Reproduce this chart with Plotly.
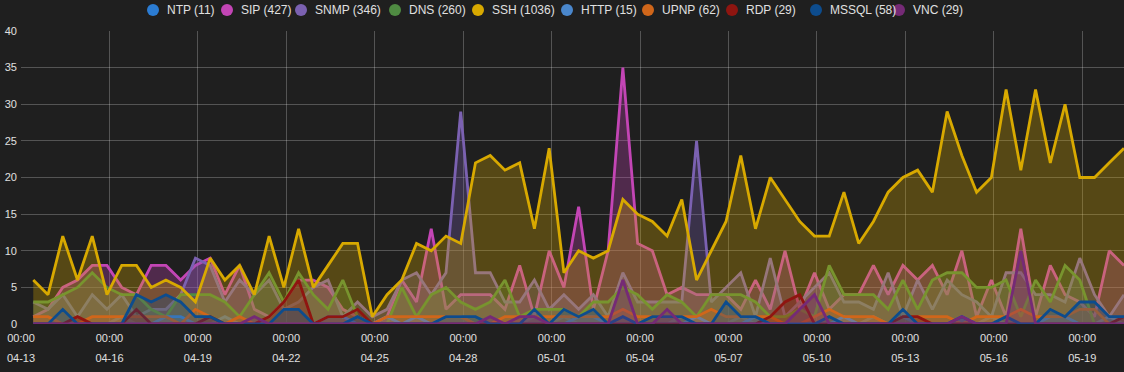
import pandas as pd
import plotly.graph_objects as go

# ---- data (12-hourly counts) ----
start = "2021-04-13 10:00"
n_points = 75
dates = pd.date_range(start, periods=n_points, freq="12h")

names = ["NTP", "SIP", "SNMP", "DNS", "SSH", "HTTP", "UPNP", "RDP", "MSSQL", "VNC"]

NTP = [0,0,0,0,0,0,1,0,0,0,0,0,0,1,0,0,0,0,0,0,0,0,0,0,0,
       0,0,0,1,1,0,0,0,0,1,0,1,0,0,0,0,0,0,0,1,0,0,0,1,0,
       0,0,0,0,0,0,0,1,0,0,0,0,0,0,0,1,0,0,0,0,0,0,0,1,0]
SIP = [1,2,5,6,8,8,5,4,8,8,6,8,9,4,8,2,1,3,6,6,5,2,1,0,1,
       6,3,13,2,4,4,4,2,8,1,10,5,16,2,10,35,11,10,4,5,4,4,4,
       2,6,2,10,2,7,2,4,4,8,4,8,6,8,4,10,1,6,1,13,1,8,4,3,1,10,8]
SNMP = [3,2,4,1,4,2,4,1,2,2,4,9,8,3,6,4,6,2,3,5,6,1,3,1,2,
        6,7,4,7,29,7,7,3,3,6,2,4,2,4,1,7,3,3,3,3,25,3,5,
        7,1,9,1,3,5,7,3,3,2,7,1,6,2,6,4,3,1,7,7,4,4,3,9,4,1,4]
DNS = [3,3,4,5,7,5,4,4,2,1,4,4,4,3,1,4,7,3,7,4,2,6,1,0,0,
       5,1,4,5,3,2,3,6,1,2,2,2,1,3,3,5,4,2,4,3,1,4,4,
       4,3,1,1,2,1,8,4,4,4,2,6,2,6,7,7,5,5,6,1,6,3,8,6,0,0,0]
SSH = [6,4,12,6,12,4,8,8,5,6,5,3,9,6,8,4,12,5,13,5,8,11,11,1,4,
       6,11,10,12,11,22,23,21,22,13,24,7,10,9,10,17,15,14,12,17,6,10,14,
       23,13,20,17,14,12,12,18,11,14,18,20,21,18,29,23,18,20,32,21,32,22,30,20,20,22,24]
HTTP = [0,0,0,0,0,0,0,0,0,1,1,0,0,0,0,0,0,0,0,0,1,1,0,0,1,
        0,1,0,0,0,0,0,0,0,0,0,0,1,1,0,0,0,0,0,0,1,0,0,0,1,
        0,0,0,0,0,1,0,0,0,1,0,0,0,1,0,0,0,0,0,1,1,0,0,0,0]
UPNP = [1,1,0,0,1,1,1,1,1,1,0,2,1,0,1,0,0,0,0,0,0,0,0,0,1,
        1,1,1,1,1,0,0,1,1,1,1,1,1,1,1,2,1,1,1,1,1,2,1,
        1,1,1,0,0,1,2,1,1,1,0,1,1,1,1,0,1,1,1,2,1,1,1,2,2,0,1]
RDP = [0,0,0,1,0,0,0,2,0,0,0,0,1,0,0,0,1,3,6,0,1,1,2,0,0,
       0,0,0,0,0,0,0,0,0,0,0,0,0,0,0,0,0,0,0,0,0,0,0,0,0,
       1,3,4,0,0,0,0,0,0,1,1,0,0,0,0,0,0,0,0,0,0,0,0,0,1]
MSSQL = [0,0,2,0,0,0,0,4,3,4,3,1,1,0,0,0,0,2,2,0,0,0,1,0,0,
         0,0,0,1,1,1,0,0,0,2,0,2,1,2,0,1,0,1,1,1,0,0,3,
         1,1,0,0,0,0,1,0,0,0,0,2,0,0,0,1,0,0,1,0,0,2,1,3,3,1,1]
VNC = [0,0,0,0,0,0,0,0,0,0,0,0,0,0,0,1,0,0,0,0,0,0,0,0,0,
       0,0,0,0,0,0,1,0,1,1,0,0,0,0,0,6,0,0,2,0,0,0,0,0,0,
       0,0,2,4,0,0,0,0,0,0,0,0,0,1,0,0,0,10,0,0,0,0,0,0,0]

series = [NTP, SIP, SNMP, DNS, SSH, HTTP, UPNP, RDP, MSSQL, VNC]
colors = ["#2b7cd3", "#c345b5", "#7b61b1", "#4f8b42", "#d8a900",
          "#4a87cc", "#d0661a", "#8f1510", "#0d4c8d", "#752a76"]

tick_dates = pd.date_range("2021-04-13", "2021-05-19", freq="3D")
tick_time = ["00:00" for _ in tick_dates]
tick_day = [d.strftime("%m-%d") for d in tick_dates]
x_range = ["2021-04-13 00:00", "2021-05-20 10:00"]

# ---- layout constants ----
W, H = 1124, 372
ML, MR, MT, MB = 21, 0, 31, 48
PW, PH = W - ML - MR, H - MT - MB
legend_cx = [153, 227, 301, 395, 478, 567, 648, 732, 816, 899]  # legend symbol centres (px)
legend_cy = 10


def rgba(hexc, a):
    h = hexc.lstrip("#")
    r, g, b = int(h[0:2], 16), int(h[2:4], 16), int(h[4:6], 16)
    return f"rgba({r},{g},{b},{a})"


def px_to_paper_x(px):
    return (px - ML) / PW


def py_to_paper_y(py):
    return (H - MB - py) / PH


fig = go.Figure()
for i, (name, vals, col) in enumerate(zip(names, series, colors)):
    fig.add_trace(go.Scatter(
        x=dates, y=vals, mode="lines", name=f"{name} ({sum(vals)})",
        line=dict(color=col, width=2.8), fill="tozeroy",
        fillcolor=rgba(col, 0.3), showlegend=False,
        xaxis="x2" if i == len(names) - 1 else "x", yaxis="y"))

# ---- legend (symbol + label) ----
shapes, annotations = [], []
for name, vals, col, cx in zip(names, series, colors, legend_cx):
    shapes.append(dict(type="circle", xref="paper", yref="paper",
                       xsizemode="pixel", ysizemode="pixel",
                       xanchor=px_to_paper_x(cx), yanchor=py_to_paper_y(legend_cy),
                       x0=-6, x1=6, y0=-6, y1=6,
                       fillcolor=col, line=dict(width=0), layer="above"))
    annotations.append(dict(text=f"{name} ({sum(vals)})", xref="paper", yref="paper",
                            x=px_to_paper_x(cx + 12), y=py_to_paper_y(legend_cy),
                            xanchor="left", yanchor="middle", showarrow=False,
                            font=dict(size=12, color="#e0e0e0")))

bg = "#1f1f1f"
grid = "rgba(255,255,255,0.24)"
fig.update_layout(
    width=W, height=H,
    paper_bgcolor=bg, plot_bgcolor=bg,
    margin=dict(l=ML, r=MR, t=MT, b=MB, autoexpand=False),
    font=dict(family="Liberation Sans, Arial, sans-serif", size=11, color="#e0e0e0"),
    showlegend=False,
    shapes=shapes, annotations=annotations,
    xaxis=dict(type="date", range=x_range, tickvals=tick_dates, ticktext=tick_time,
               showgrid=True, gridcolor=grid, gridwidth=1, zeroline=False,
               showline=False, ticks="", ticklabelstandoff=6, automargin=False,
               tickfont=dict(size=11, color="#e0e0e0")),
    xaxis2=dict(type="date", range=x_range, tickvals=tick_dates, ticktext=tick_day,
                overlaying="x", anchor="y", side="bottom", showgrid=False,
                zeroline=False, showline=False, ticks="", ticklabelstandoff=26,
                automargin=False, tickfont=dict(size=11, color="#e0e0e0")),
    yaxis=dict(range=[0, 40], dtick=5, showgrid=True, gridcolor=grid, gridwidth=1,
               zeroline=False, showline=False, ticks="", ticklabelstandoff=3,
               automargin=False, tickfont=dict(size=11, color="#e0e0e0")),
)

fig.write_html("out.html", config={"displayModeBar": False},
               post_script="document.body.style.margin='0';document.body.style.background='#1f1f1f';")
